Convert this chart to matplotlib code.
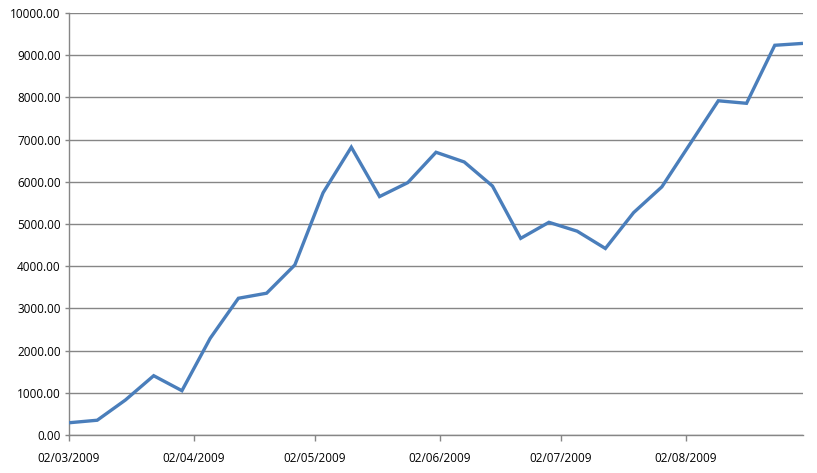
import datetime as dt
import matplotlib
matplotlib.use("Agg")
import matplotlib.pyplot as plt
import matplotlib.dates as mdates

# weekly readings, Monday dates
dates = [dt.date(2009, 3, 2) + dt.timedelta(weeks=i) for i in range(27)]
values = [290, 350, 830, 1405, 1050, 2290, 3240, 3360, 4030,
          5740, 6820, 5650, 5980, 6700, 6470, 5900, 4660, 5040,
          4830, 4420, 5270, 5880, 6900, 7920, 7860, 9235, 9280]
y_ticks = [0, 1000, 2000, 3000, 4000, 5000, 6000, 7000, 8000, 9000, 10000]

LINE_BLUE = "#4A7EBB"
GRID_GREY = "#868686"

plt.rcParams["font.family"] = ["Open Sans", "DejaVu Sans"]

fig = plt.figure(figsize=(8.17, 4.73), dpi=100)
ax = fig.add_axes([69 / 817, 1 - 435 / 473, 734 / 817, 422 / 473])

ax.plot(dates, values, color=LINE_BLUE, linewidth=2.4, solid_joinstyle="miter",
        solid_capstyle="butt", zorder=3)

ax.set_ylim(0, 10000)
ax.set_yticks(y_ticks)
ax.set_yticklabels([f"{v:.2f}" for v in y_ticks])
ax.set_xlim(dates[0] - dt.timedelta(days=0.2), dates[-1] + dt.timedelta(days=0.6))
ax.xaxis.set_major_locator(mdates.MonthLocator(bymonthday=2))
ax.xaxis.set_major_formatter(mdates.DateFormatter("%d/%m/%Y"))

ax.grid(axis="y", color=GRID_GREY, linewidth=1.0)
ax.set_axisbelow(True)
for side in ["top", "right"]:
    ax.spines[side].set_visible(False)
for side in ["left", "bottom"]:
    ax.spines[side].set_color(GRID_GREY)
    ax.spines[side].set_linewidth(1.0)

ax.tick_params(axis="y", direction="out", length=3, width=1.0, color=GRID_GREY,
               labelsize=8.5, pad=3)
ax.tick_params(axis="x", direction="out", length=4, width=1.0, color=GRID_GREY,
               labelsize=8.5, pad=8)

fig.savefig("out.png", dpi=100)
